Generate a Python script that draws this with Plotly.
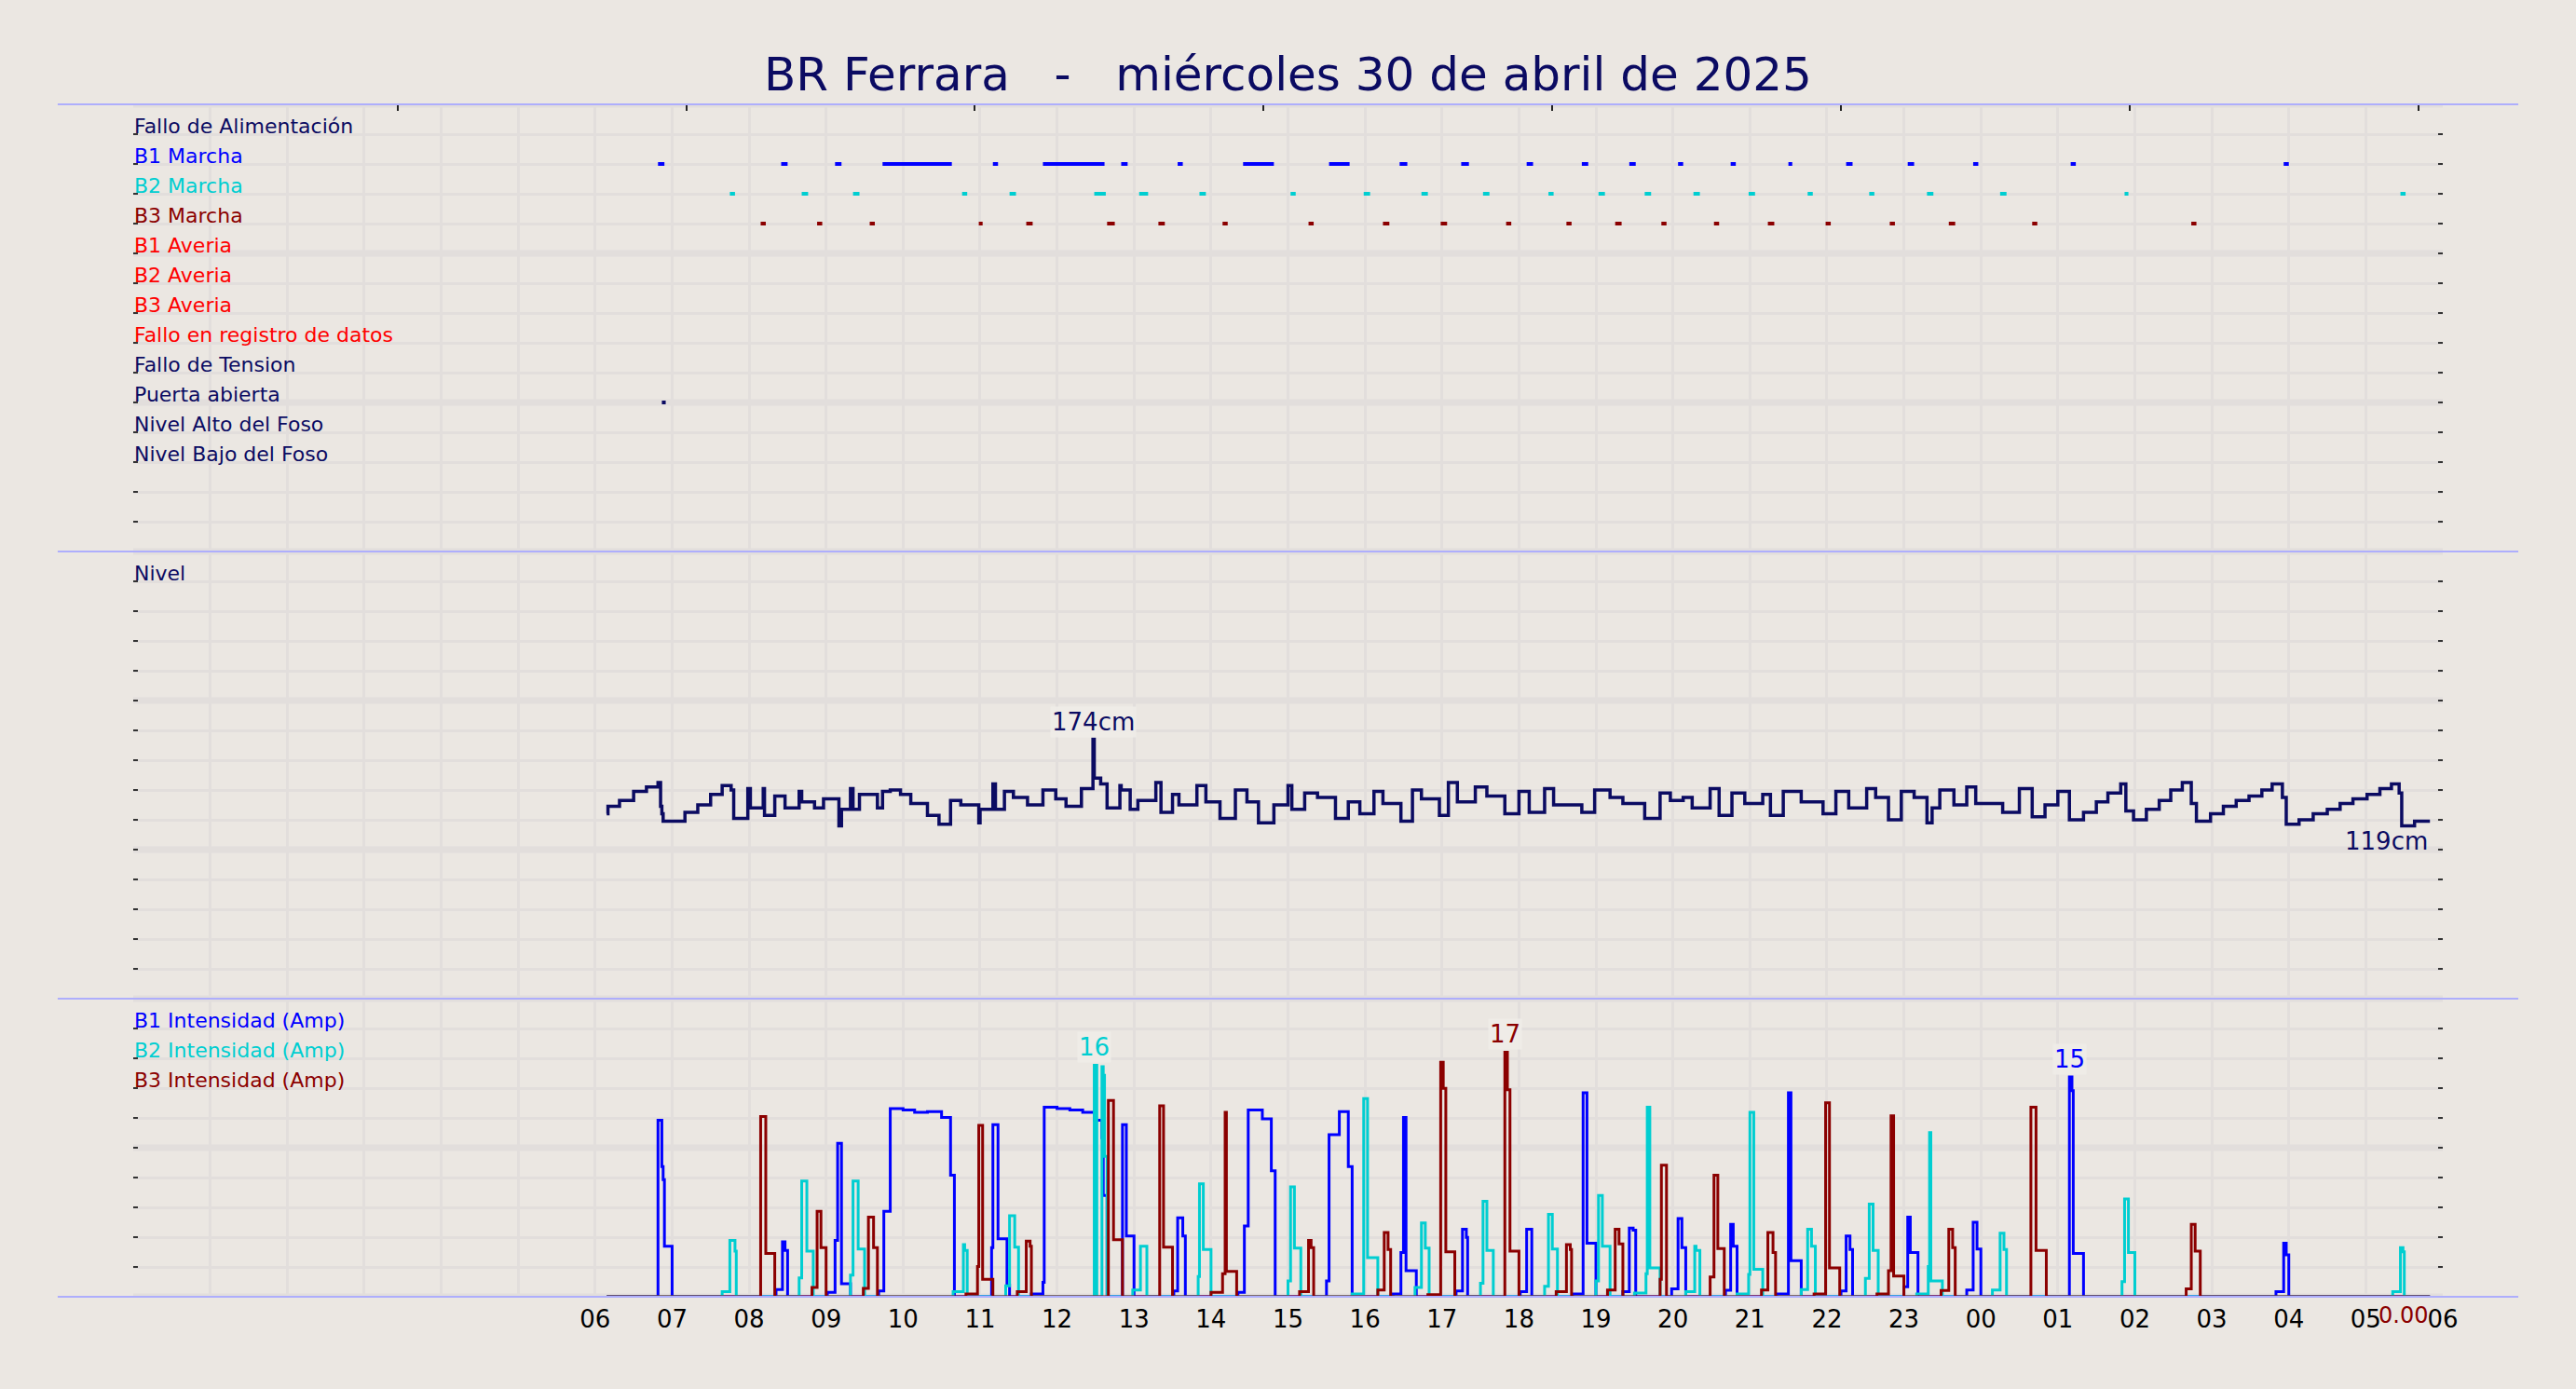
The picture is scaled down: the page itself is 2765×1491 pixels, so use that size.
import plotly.graph_objects as go
from plotly.subplots import make_subplots
from datetime import datetime, timedelta

# ---------------- data ----------------
TITLE = "BR Ferrara\u00a0\u00a0\u00a0-\u00a0\u00a0\u00a0miércoles 30 de abril de 2025"
X_START = "2025-04-30 00:00"
X_END = "2025-05-01 06:00"
HOUR_LABELS = ["06", "07", "08", "09", "10", "11", "12", "13", "14", "15", "16", "17",
               "18", "19", "20", "21", "22", "23", "00", "01", "02", "03", "04", "05", "06"]
TOP_TICKS = ["2025-04-30 03:26", "2025-04-30 07:11", "2025-04-30 10:56", "2025-04-30 14:41",
             "2025-04-30 18:26", "2025-04-30 22:11", "2025-05-01 01:56", "2025-05-01 05:41"]

ROW_LABELS = ["Fallo de Alimentación", "B1 Marcha", "B2 Marcha", "B3 Marcha", "B1 Averia",
              "B2 Averia", "B3 Averia", "Fallo en registro de datos", "Fallo de Tension",
              "Puerta abierta", "Nivel Alto del Foso", "Nivel Bajo del Foso"]
NAVY = "#0b0b62"
ROW_COLORS = [NAVY, "#0000ff", "#00ced1", "#8b0000", "#ff0000", "#ff0000", "#ff0000",
              "#ff0000", NAVY, NAVY, NAVY, NAVY]

# event periods (start, end) per row
EVENTS = {
    "B1 Marcha": [("06:49", "06:54"), ("08:25", "08:30"), ("09:07", "09:12"), ("09:44", "10:38"),
                  ("11:10", "11:14"), ("11:49", "12:37"), ("12:50", "12:55"), ("13:34", "13:38"),
                  ("14:25", "14:49"), ("15:32", "15:48"), ("16:27", "16:33"), ("17:15", "17:21"),
                  ("18:06", "18:11"), ("18:49", "18:54"), ("19:26", "19:31"), ("20:04", "20:08"),
                  ("20:45", "20:49"), ("21:30", "21:33"), ("22:15", "22:20"), ("23:03", "23:08"),
                  ("23:54", "23:58"), ("01:10", "01:14"), ("03:56", "04:00")],
    "B2 Marcha": [("07:45", "07:49"), ("08:41", "08:46"), ("09:21", "09:26"), ("10:46", "10:50"),
                  ("11:23", "11:28"), ("12:29", "12:38"), ("13:04", "13:11"), ("13:51", "13:56"),
                  ("15:02", "15:06"), ("15:59", "16:04"), ("16:44", "16:49"), ("17:32", "17:37"),
                  ("18:23", "18:27"), ("19:02", "19:07"), ("19:38", "19:43"), ("20:16", "20:21"),
                  ("20:59", "21:04"), ("21:45", "21:49"), ("22:33", "22:37"), ("23:18", "23:23"),
                  ("00:15", "00:20"), ("01:52", "01:55"), ("05:27", "05:31")],
    "B3 Marcha": [("08:09", "08:13"), ("08:53", "08:57"), ("09:34", "09:38"), ("10:59", "11:02"),
                  ("11:36", "11:41"), ("12:39", "12:45"), ("13:19", "13:24"), ("14:09", "14:13"),
                  ("15:16", "15:20"), ("16:14", "16:19"), ("16:59", "17:04"), ("17:50", "17:54"),
                  ("18:37", "18:41"), ("19:15", "19:20"), ("19:51", "19:55"), ("20:32", "20:36"),
                  ("21:14", "21:19"), ("21:59", "22:03"), ("22:49", "22:53"), ("23:35", "23:40"),
                  ("00:40", "00:44"), ("02:44", "02:48")],
    "Puerta abierta": [("06:52", "06:55")],
}

LEVEL_T = ["06:09", "06:10", "06:19", "06:30", "06:40", "06:49", "06:51", "06:52", "06:53", "07:10",
           "07:20", "07:30", "07:39", "07:46", "07:48", "07:59", "08:01", "08:11", "08:12", "08:20",
           "08:28", "08:39", "08:41", "08:51", "08:58", "09:10", "09:12", "09:19", "09:21", "09:26",
           "09:40", "09:44", "09:50", "09:58", "10:06", "10:19", "10:28", "10:37", "10:45", "10:59",
           "11:00", "11:10", "11:12", "11:19", "11:26", "11:37", "11:49", "11:59", "12:07", "12:19",
           "12:28", "12:29", "12:34", "12:39", "12:49", "12:50", "12:57", "13:03", "13:17", "13:21",
           "13:30", "13:35", "13:49", "13:56", "14:07", "14:19", "14:28", "14:37", "14:49", "15:00",
           "15:03", "15:13", "15:23", "15:37", "15:47", "15:56", "16:07", "16:14", "16:28", "16:37",
           "16:44", "16:58", "17:05", "17:12", "17:26", "17:35", "17:49", "18:00", "18:08", "18:20",
           "18:27", "18:49", "18:59", "19:11", "19:21", "19:38", "19:50", "19:58", "20:08", "20:15",
           "20:29", "20:36", "20:46", "20:56", "21:10", "21:16", "21:26", "21:40", "21:57", "22:07",
           "22:17", "22:31", "22:38", "22:48", "22:58", "23:08", "23:18", "23:22", "23:28", "23:39",
           "23:49", "23:56", "00:17", "00:30", "00:40", "00:50", "01:00", "01:09", "01:20", "01:30",
           "01:39", "01:49", "01:53", "01:59", "02:09", "02:19", "02:28", "02:37", "02:44", "02:48",
           "02:59", "03:09", "03:19", "03:29", "03:39", "03:47", "03:55", "03:58", "04:08", "04:19",
           "04:30", "04:40", "04:50", "05:01", "05:11", "05:20", "05:26", "05:28", "05:38", "05:50"]
LEVEL_V = [124, 129, 133, 139, 142, 145, 129, 124, 119, 125,
           130, 137, 143, 140, 121, 141, 128, 141, 123, 136,
           128, 139, 132, 128, 134, 116, 127, 141, 127, 137,
           128, 139, 140, 137, 131, 123, 117, 133, 130, 118,
           127, 144, 127, 139, 135, 130, 140, 134, 129, 141,
           174, 148, 144, 128, 143, 140, 127, 133, 145, 125,
           137, 130, 143, 132, 121, 140, 132, 118, 130, 143,
           127, 138, 135, 121, 132, 124, 139, 131, 119, 140,
           134, 123, 145, 132, 142, 136, 124, 139, 125, 141,
           130, 125, 140, 135, 131, 121, 138, 133, 135, 128,
           141, 123, 138, 131, 137, 123, 139, 132, 124, 139,
           128, 141, 135, 120, 139, 135, 118, 128, 140, 130,
           142, 131, 125, 141, 122, 130, 139, 120, 125, 132,
           138, 144, 126, 120, 127, 133, 140, 145, 131, 119,
           124, 129, 133, 136, 140, 144, 135, 117, 120, 124,
           127, 131, 134, 137, 141, 144, 138, 116, 119, 119]

B1_T = ["06:09", "06:49", "06:52", "06:53", "06:54", "07:00", "08:21", "08:26", "08:28", "08:30",
        "09:01", "09:07", "09:09", "09:12", "09:19", "09:41", "09:45", "09:50", "10:00", "10:09",
        "10:19", "10:30", "10:37", "10:40", "11:09", "11:10", "11:14", "11:21", "11:23", "11:40",
        "11:49", "11:50", "12:00", "12:10", "12:20", "12:29", "12:35", "12:36", "12:39", "12:51",
        "12:54", "13:00", "13:31", "13:34", "13:38", "13:40", "14:21", "14:26", "14:29", "14:40",
        "14:47", "14:50", "15:30", "15:32", "15:40", "15:47", "15:50", "16:22", "16:28", "16:30",
        "16:32", "16:40", "17:11", "17:16", "17:19", "17:20", "18:01", "18:06", "18:10", "18:42",
        "18:50", "18:53", "19:00", "19:21", "19:26", "19:29", "19:31", "19:59", "20:04", "20:07",
        "20:10", "20:41", "20:45", "20:47", "20:50", "21:21", "21:30", "21:32", "21:40", "22:11",
        "22:15", "22:18", "22:20", "23:00", "23:03", "23:05", "23:11", "23:49", "23:54", "23:57",
        "00:00", "01:09", "01:11", "01:12", "01:20", "03:50", "03:56", "03:58", "04:00", "05:50"]
B1_V = [0, 12.2, 9.0, 8.1, 3.5, 0, 0.5, 3.8, 3.2, 0,
        0.3, 3.9, 10.6, 0.9, 0, 0.4, 5.9, 13.0, 12.9, 12.75,
        12.8, 12.4, 8.4, 0, 3.4, 11.9, 4.0, 0.8, 0, 0.2,
        1.0, 13.1, 13.0, 12.9, 12.75, 12.2, 11.0, 7.0, 0, 11.9,
        4.2, 0, 0.4, 5.45, 4.2, 0, 0.3, 4.9, 12.9, 12.3,
        8.7, 0, 1.1, 11.2, 12.8, 9.0, 0, 0.2, 3.05, 12.4,
        1.8, 0, 0.4, 4.66, 4.1, 0, 0.36, 4.66, 0, 0.2,
        14.1, 3.7, 0, 0.36, 4.74, 4.6, 0, 0.54, 5.4, 3.4,
        0, 0.45, 5.0, 3.5, 0, 0.2, 14.1, 2.5, 0, 0.4,
        4.2, 3.26, 0, 0.7, 5.5, 3.05, 0, 0.47, 5.15, 3.3,
        0, 15.2, 14.25, 3.0, 0, 0.36, 3.7, 2.9, 0, 0]

B2_T = ["06:09", "07:39", "07:45", "07:49", "07:50", "08:39", "08:41", "08:45", "08:50", "09:19",
        "09:21", "09:25", "09:30", "10:39", "10:47", "10:48", "10:50", "11:20", "11:23", "11:27",
        "11:30", "12:29", "12:31", "12:35", "12:36", "12:37", "12:39", "12:59", "13:05", "13:10",
        "13:50", "13:51", "13:54", "14:00", "15:00", "15:02", "15:05", "15:10", "15:50", "15:59",
        "16:02", "16:10", "16:39", "16:44", "16:47", "16:50", "17:30", "17:32", "17:35", "17:40",
        "18:20", "18:23", "18:26", "18:30", "19:00", "19:02", "19:05", "19:11", "19:30", "19:39",
        "19:40", "19:42", "19:50", "20:10", "20:17", "20:18", "20:21", "20:50", "20:59", "21:00",
        "21:03", "21:10", "21:40", "21:45", "21:48", "21:51", "22:30", "22:33", "22:36", "22:40",
        "23:10", "23:19", "23:20", "23:21", "23:30", "00:09", "00:15", "00:18", "00:20", "01:50",
        "01:52", "01:55", "02:00", "05:21", "05:27", "05:29", "05:30", "05:50"]
B2_V = [0, 0.36, 3.9, 3.15, 0, 1.3, 8.0, 3.15, 0, 1.5,
        8.0, 3.3, 0, 0.36, 3.6, 3.2, 0, 0.75, 5.6, 3.43,
        0, 16.0, 0, 15.9, 15.3, 9.7, 0, 0.47, 3.5, 0,
        1.4, 7.8, 3.26, 0, 1.1, 7.6, 3.37, 0, 0.2, 13.7,
        2.7, 0, 0.64, 5.1, 3.37, 0, 0.94, 6.6, 3.2, 0,
        0.73, 5.7, 3.3, 0, 1.1, 7.0, 3.5, 0, 0.26, 1.6,
        13.1, 2.0, 0, 0.36, 3.5, 3.2, 0, 0.2, 1.55, 12.75,
        1.9, 0, 0.5, 4.66, 3.5, 0, 1.27, 6.4, 3.2, 0,
        0.2, 2.1, 11.35, 1.1, 0, 0.47, 4.4, 3.26, 0, 1.05,
        6.76, 3.05, 0, 0.36, 3.4, 3.1, 0, 0]

B3_T = ["06:09", "08:09", "08:13", "08:20", "08:49", "08:53", "08:56", "09:00", "09:29", "09:33",
        "09:37", "09:40", "10:49", "10:58", "10:59", "11:02", "11:10", "11:29", "11:36", "11:39",
        "11:40", "12:40", "12:44", "12:51", "13:20", "13:23", "13:30", "14:00", "14:09", "14:11",
        "14:12", "14:20", "15:09", "15:16", "15:18", "15:20", "16:10", "16:15", "16:18", "16:20",
        "16:49", "16:59", "17:01", "17:03", "17:10", "17:49", "17:51", "17:53", "18:00", "18:29",
        "18:37", "18:40", "18:41", "19:09", "19:15", "19:18", "19:21", "19:50", "19:51", "19:55",
        "20:29", "20:32", "20:35", "20:40", "21:09", "21:14", "21:18", "21:20", "21:50", "21:59",
        "22:02", "22:10", "22:39", "22:48", "22:50", "22:52", "23:00", "23:29", "23:35", "23:38",
        "23:40", "00:39", "00:43", "00:51", "02:40", "02:44", "02:47", "02:51", "05:50"]
B3_V = [0, 12.45, 3.0, 0, 0.64, 5.9, 3.4, 0, 0.58, 5.5,
        3.4, 0, 0.2, 2.1, 11.85, 1.2, 0, 0.36, 3.84, 3.5,
        0, 13.56, 3.95, 0, 13.2, 3.43, 0, 0.3, 1.6, 12.75,
        1.76, 0, 0.36, 3.9, 3.4, 0, 0.47, 4.44, 3.26, 0,
        0.15, 16.2, 14.4, 3.1, 0, 16.9, 14.3, 3.15, 0, 0.36,
        3.6, 3.26, 0, 0.47, 4.66, 3.65, 0, 1.2, 9.1, 0,
        1.37, 8.4, 3.33, 0, 0.47, 4.44, 3.05, 0, 0.2, 13.4,
        2.0, 0, 0.2, 1.8, 12.5, 1.44, 0, 0.43, 4.66, 3.4,
        0, 13.1, 3.2, 0, 0.54, 5.0, 3.15, 0, 0]

# ---------------- helpers ----------------
BASE = datetime(2025, 4, 30)


def tt(hm):
    h, m = (int(p) for p in hm.split(":"))
    d = BASE + timedelta(hours=h, minutes=m)
    if h < 6:
        d += timedelta(days=1)
    return d


BG = "#ebe7e2"
GRID = "#e2dedc"
BORDER = "#aeaefc"
FONT = "DejaVu Sans"

fig = make_subplots(rows=3, cols=1, shared_xaxes=True, vertical_spacing=0,
                    row_heights=[480, 480, 320])

# ---- top panel: events ----
row_y = {lab: 14 - i for i, lab in enumerate(ROW_LABELS)}
for lab, periods in EVENTS.items():
    xs, ys = [], []
    for a, b in periods:
        xs += [tt(a), tt(b), None]
        ys += [row_y[lab], row_y[lab], None]
    col = ROW_COLORS[ROW_LABELS.index(lab)]
    fig.add_trace(go.Scatter(x=xs, y=ys, mode="lines", line=dict(color=col, width=4),
                             showlegend=False, hoverinfo="skip"), row=1, col=1)

# ---- middle panel: level ----
lx = [tt(s) for s in LEVEL_T]
fig.add_trace(go.Scatter(x=lx, y=LEVEL_V, mode="lines", line=dict(color=NAVY, width=3.5, shape="hv"),
                         showlegend=False), row=2, col=1)

# ---- bottom panel: currents ----
SERIES = [(B1_T, B1_V, "#0000ff"), (B2_T, B2_V, "#00ced1"), (B3_T, B3_V, "#8b0000")]
for ts_, vs_, col in SERIES:
    fig.add_trace(go.Scatter(x=[tt(s) for s in ts_], y=vs_, mode="lines",
                             line=dict(color=col, width=3, shape="hv"),
                             showlegend=False), row=3, col=1)

# ---------------- axes ----------------
hours = [BASE + timedelta(hours=h) for h in range(31)]
hour_text = [""] * (31 - len(HOUR_LABELS)) + HOUR_LABELS

common_x = dict(range=[X_START, X_END], showline=False, zeroline=False)
fig.update_xaxes(**common_x)
fig.update_xaxes(row=1, col=1, side="top", tickmode="array", tickvals=TOP_TICKS,
                 ticktext=[""] * len(TOP_TICKS), ticks="inside", ticklen=7, tickwidth=1.5,
                 tickcolor="#222222", showgrid=False, showticklabels=False,
                 minor=dict(tick0=X_START, dtick=3600000, showgrid=True, gridcolor=GRID,
                            gridwidth=3, ticks=""))
fig.update_xaxes(row=2, col=1, tickmode="array", tickvals=hours, ticktext=hour_text,
                 showticklabels=False, ticks="", showgrid=True, gridcolor=GRID, gridwidth=3)
fig.update_xaxes(row=3, col=1, tickmode="array", tickvals=hours, ticktext=hour_text,
                 showticklabels=True, ticks="", showgrid=True, gridcolor=GRID, gridwidth=3,
                 ticklabelstandoff=6,
                 tickfont=dict(family=FONT, size=26, color="#000000"))

ycommon = dict(showticklabels=False, ticks="inside", ticklen=5, tickwidth=2, tickcolor="#333333",
               mirror="ticks", showgrid=True, gridcolor=GRID, gridwidth=3, zeroline=False,
               showline=False, tickmode="linear", tick0=0)
fig.update_yaxes(row=1, col=1, range=[0, 15], dtick=1, **ycommon)
fig.update_yaxes(row=2, col=1, range=[0, 300], dtick=20, **ycommon)
fig.update_yaxes(row=3, col=1, range=[0, 20.6], dtick=2.06, **ycommon)

# ---------------- decorations ----------------
shapes = []
for yref, vals in (("y", [0, 5, 10, 15]), ("y2", [0, 100, 200, 300]), ("y3", [0, 10.3, 20.6])):
    for v in vals:
        shapes.append(dict(type="line", xref="paper", x0=0, x1=1, yref=yref, y0=v, y1=v,
                           line=dict(color=GRID, width=7), layer="below"))
shapes.append(dict(type="line", xref="x", x0=tt("06:00"), x1=tt("06:00"), yref="paper", y0=0, y1=1,
                   line=dict(color="#b8b8ff", width=1.5), layer="below"))
for yp in (1.0, 0.625, 0.25, 0.0):
    shapes.append(dict(type="line", xref="paper", x0=-0.0327, x1=1.0327, yref="paper", y0=yp, y1=yp,
                       line=dict(color=BORDER, width=2), layer="above"))

ann = []
for i, lab in enumerate(ROW_LABELS):
    ann.append(dict(xref="paper", x=0, yref="y", y=row_y[lab], text=lab, showarrow=False,
                    xanchor="left", yanchor="middle", yshift=9, borderpad=0,
                    font=dict(family=FONT, size=22, color=ROW_COLORS[i])))
ann.append(dict(xref="paper", x=0, yref="y2", y=280, text="Nivel", showarrow=False, borderpad=0,
                xanchor="left", yanchor="middle", yshift=9, font=dict(family=FONT, size=22, color=NAVY)))
AMP_LABELS = ["B1 Intensidad (Amp)", "B2 Intensidad (Amp)", "B3 Intensidad (Amp)"]
for k, lab in enumerate(AMP_LABELS):
    ann.append(dict(xref="paper", x=0, yref="y3", y=20.6 - 2.06 * (k + 1), text=lab, showarrow=False,
                    xanchor="left", yanchor="middle", yshift=9, borderpad=0,
                    font=dict(family=FONT, size=22, color=SERIES[k][2])))

# level max / last labels
imax = max(range(len(LEVEL_V)), key=lambda i: LEVEL_V[i])
ann.append(dict(x=lx[imax], y=LEVEL_V[imax], xref="x2", yref="y2", text=f"{LEVEL_V[imax]}cm",
                showarrow=False, xanchor="center", yanchor="bottom", yshift=2,
                font=dict(family=FONT, size=26, color=NAVY), bgcolor="rgba(240,236,232,0.9)"))
ann.append(dict(x=lx[-1], y=LEVEL_V[-1], xref="x2", yref="y2", text=f"{LEVEL_V[-1]}cm",
                showarrow=False, xanchor="right", yanchor="top", yshift=-4,
                font=dict(family=FONT, size=26, color=NAVY)))
# current max labels
for ts_, vs_, col in SERIES:
    j = max(range(len(vs_)), key=lambda i: vs_[i])
    ann.append(dict(x=tt(ts_[j]), y=vs_[j], xref="x3", yref="y3", text=f"{round(vs_[j])}",
                    showarrow=False, xanchor="center", yanchor="bottom", yshift=2,
                    font=dict(family=FONT, size=26, color=col), bgcolor="rgba(240,236,232,0.9)"))
ann.append(dict(x=tt(B3_T[-1]), y=0, xref="x3", yref="y3", text=f"{B3_V[-1]:.2f}",
                showarrow=False, xanchor="right", yanchor="middle", yshift=-20, xshift=-1,
                borderpad=0, font=dict(family=FONT, size=24, color="#8b0000")))

fig.update_layout(
    width=2765, height=1491,
    margin=dict(l=143, r=143, t=112, b=99),
    paper_bgcolor=BG, plot_bgcolor=BG,
    title=dict(text=TITLE, x=0.5, xref="container", xanchor="center", y=1 - 79 / 1491,
               yref="container", yanchor="middle", font=dict(family=FONT, size=50, color=NAVY)),
    shapes=shapes, annotations=ann, showlegend=False,
    font=dict(family=FONT),
)

fig.write_html("out.html", config={"displayModeBar": False},
               post_script="document.body.style.margin='0';document.body.style.padding='0';"
                           "document.body.style.background='" + BG + "';")
